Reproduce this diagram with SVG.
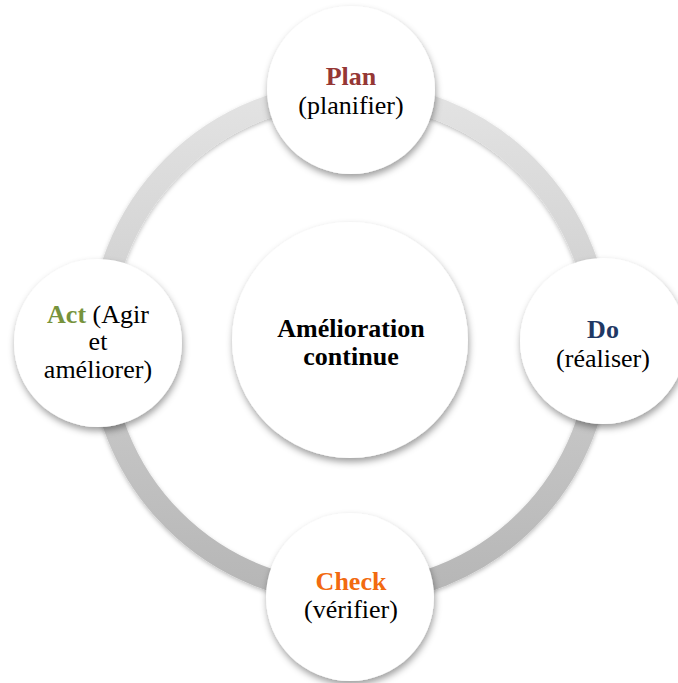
<svg xmlns="http://www.w3.org/2000/svg" width="678" height="683" viewBox="0 0 678 683">
  <defs>
    <linearGradient id="ringGrad" x1="0" y1="0" x2="0" y2="1">
      <stop offset="0" stop-color="#e3e3e3"/>
      <stop offset="1" stop-color="#b6b6b6"/>
    </linearGradient>
    <filter id="shadow" x="-20%" y="-20%" width="140%" height="145%">
      <feDropShadow dx="1" dy="4" stdDeviation="3.5" flood-color="#000" flood-opacity="0.38"/>
    </filter>
    <filter id="ringShadow" x="-10%" y="-10%" width="120%" height="120%">
      <feDropShadow dx="0" dy="2" stdDeviation="2" flood-color="#000" flood-opacity="0.25"/>
    </filter>
  </defs>
  <style>
    .node { fill: #ffffff; filter: url(#shadow); }
    text { font-family: 'Liberation Serif', 'Times New Roman', serif; font-size: 26px; text-anchor: middle; fill: #000; }
    .b { font-weight: bold; }
  </style>
  <rect width="678" height="683" fill="#ffffff"/>
  <g id="connectors">
    <circle cx="350" cy="343" r="250" fill="none" stroke="url(#ringGrad)" stroke-width="22" filter="url(#ringShadow)"/>
  </g>
  <g id="center">
    <circle class="node" cx="350" cy="340" r="118"/>
    <text class="b" x="351" y="337">Amélioration</text>
    <text class="b" x="351" y="365">continue</text>
  </g>
  <g id="plan">
    <circle class="node" cx="351" cy="90" r="84"/>
    <text class="b" x="351" y="85" style="fill:#953735">Plan</text>
    <text x="351" y="114">(planifier)</text>
  </g>
  <g id="do">
    <circle class="node" cx="603" cy="341" r="83"/>
    <text class="b" x="603" y="338" style="fill:#1f3864">Do</text>
    <text x="603" y="367">(réaliser)</text>
  </g>
  <g id="check">
    <circle class="node" cx="350" cy="597" r="84"/>
    <text class="b" x="351" y="590" style="fill:#f26a10">Check</text>
    <text x="351" y="618">(vérifier)</text>
  </g>
  <g id="act">
    <circle class="node" cx="98" cy="343" r="84"/>
    <text x="98" y="323"><tspan class="b" style="fill:#77933c">Act</tspan> (Agir</text>
    <text x="98" y="350">et</text>
    <text x="98" y="378">améliorer)</text>
  </g>
</svg>
